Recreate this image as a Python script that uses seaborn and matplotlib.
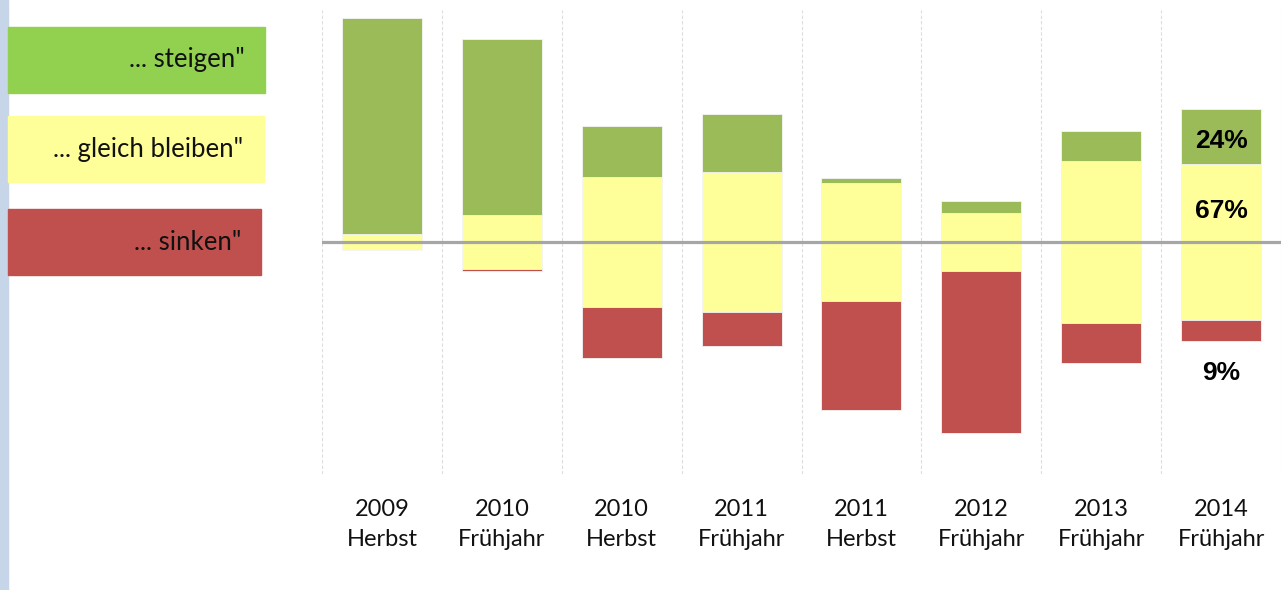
import numpy as np
import pandas as pd
import seaborn as sns
import matplotlib.pyplot as plt
from matplotlib.patches import Rectangle

# survey waves
years = ['2009', '2010', '2010', '2011', '2011', '2012', '2013', '2014']
seasons = ['Herbst', 'Frühjahr', 'Herbst', 'Frühjahr', 'Herbst', 'Frühjahr', 'Frühjahr', 'Frühjahr']
# shares in % ("... steigen", "... gleich bleiben", "... sinken")
steigen = [93, 76, 22, 25, 2, 5, 13, 24]
gleich = [7, 23, 56, 60, 51, 25, 70, 67]
sinken = [0, 1, 22, 15, 47, 70, 17, 9]

legend_labels = ['... steigen"', '... gleich bleiben"', '... sinken"']

bar_green = '#9bbb59'
bar_yellow = '#ffff99'
bar_red = '#c0504d'
leg_green = '#92d050'

sns.set_theme(style='white')
plt.rcParams['font.family'] = ['Lato', 'DejaVu Sans']

labels = [f'{y}\n{s}' for y, s in zip(years, seasons)]
df = pd.DataFrame({'welle': labels, 'steigen': steigen, 'gleich': gleich, 'sinken': sinken})
df['half'] = df['gleich'] / 2

fig = plt.figure(figsize=(12.81, 5.90), dpi=100)
W, H = 1281, 590
ax = fig.add_axes([322 / W, 1 - 474 / H, 959 / W, 464 / H])

kw = dict(x='welle', errorbar=None, width=80 / 120, ax=ax, linewidth=0.6, edgecolor='#f4f4f4')
# yellow centred on the baseline, green stacked above, red below
sns.barplot(data=df, y='gleich', bottom=-df['half'], color=bar_yellow, saturation=1, **kw)
sns.barplot(data=df, y='steigen', bottom=df['half'], color=bar_green, saturation=1, **kw)
sns.barplot(data=df, y='sinken', bottom=-df['half'] - df['sinken'], color=bar_red, saturation=1, **kw)

ax.set_ylim(-100, 100)
ax.set_xlim(-0.5, 7.5 - 1 / 120)
ax.axhline(0, color='#a6a6a6', lw=2.3, zorder=5)

ax.set_xticks(np.arange(-0.5, 8), minor=True)
ax.grid(which='minor', axis='x', ls=(0, (3, 2)), color='#dcdcdc', lw=0.8)
ax.set_yticks([])
ax.set_xlabel('')
ax.set_ylabel('')
for s in ax.spines.values():
    s.set_visible(False)
ax.tick_params(axis='x', which='both', length=0, pad=18, labelsize=17, labelcolor='#111111')
for t in ax.get_xticklabels():
    t.set_linespacing(1.5)

# value labels on the last wave
i = len(labels) - 1
lab_font = dict(family='Liberation Sans', fontweight='bold', fontsize=19, ha='center', va='center',
                color='black')
ax.text(i, df['half'][i] + steigen[i] / 2 - 2, f'{steigen[i]}%', **lab_font)
ax.text(i, df['half'][i] - 20, f'{gleich[i]}%', **lab_font)
ax.text(i, -df['half'][i] - sinken[i] - 14, f'{sinken[i]}%', **lab_font)

# legend boxes on the left
fig.patches.append(Rectangle((0, 0), 8 / W, 1, transform=fig.transFigure, color='#c6d5e7', zorder=0))
boxes = [(27, 93, 265, leg_green, 245), (116, 182, 264, bar_yellow, 243), (209, 275, 261, bar_red, 241)]
for (top, bot, right, col, tx), txt in zip(boxes, legend_labels):
    fig.patches.append(Rectangle((8 / W, 1 - bot / H), (right - 8) / W, (bot - top) / H,
                                 transform=fig.transFigure, color=col, zorder=1))
    fig.text(tx / W, 1 - (top + bot) / 2 / H, txt, ha='right', va='center',
             fontsize=18.5, color='#111111')

fig.savefig('out.png', dpi=100)
